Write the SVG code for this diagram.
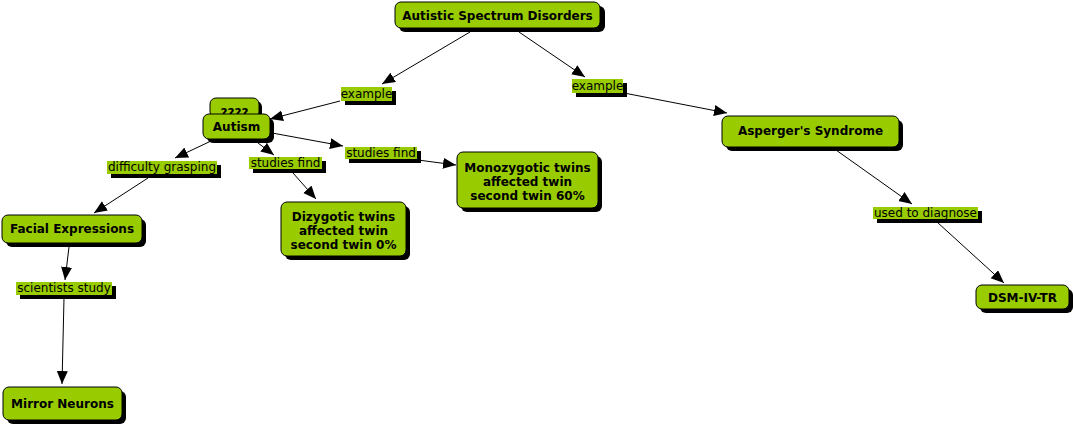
<svg xmlns="http://www.w3.org/2000/svg" width="1073" height="427" viewBox="0 0 1073 427">
<defs>
<marker id="ah" markerUnits="userSpaceOnUse" markerWidth="14" markerHeight="12" refX="13" refY="5.5" orient="auto">
<path d="M0,0 L13,5.5 L0,11 z" fill="#000"/>
</marker>
<style>
.nb{fill:#99cc00;stroke:#000;stroke-width:1}
.sh{fill:#000}
.nt{font-family:"DejaVu Sans",Verdana,sans-serif;font-weight:bold;font-size:12px;text-anchor:middle;fill:#000}
.lb{fill:#99cc00}
.lt{font-family:"DejaVu Sans",Verdana,sans-serif;font-size:12px;text-anchor:middle;fill:#000}
.cn{stroke:#000;stroke-width:1;fill:none;marker-end:url(#ah)}
</style>
</defs>
<rect width="1073" height="427" fill="#fff"/>
<g id="connectors">
<line class="cn" x1="470" y1="32" x2="382" y2="84"/>
<line class="cn" x1="340" y1="101" x2="270" y2="119"/>
<line class="cn" x1="519" y1="32" x2="585" y2="77"/>
<line class="cn" x1="624" y1="93" x2="727" y2="113"/>
<line class="cn" x1="211" y1="141" x2="175" y2="158"/>
<line class="cn" x1="148" y1="178" x2="94" y2="213"/>
<line class="cn" x1="69" y1="247" x2="65" y2="280"/>
<line class="cn" x1="64" y1="298" x2="62" y2="384"/>
<line class="cn" x1="258" y1="143" x2="274" y2="155"/>
<line class="cn" x1="293" y1="173" x2="316" y2="199"/>
<line class="cn" x1="272" y1="133" x2="343" y2="146"/>
<line class="cn" x1="418" y1="160" x2="456" y2="165"/>
<line class="cn" x1="836" y1="150" x2="912" y2="204"/>
<line class="cn" x1="937" y1="222" x2="1004" y2="283"/>
</g>
<g id="labels">
<g id="lbl-example1"><rect class="sh" x="345" y="91" width="51" height="14"/><rect class="lb" x="341" y="87" width="51" height="14"/><text class="lt" x="366.5" y="97.5">example</text></g>
<g id="lbl-example2"><rect class="sh" x="576" y="83" width="51" height="14"/><rect class="lb" x="572" y="79" width="51" height="14"/><text class="lt" x="597.5" y="89.5">example</text></g>
<g id="lbl-studies1"><rect class="sh" x="349" y="151" width="72" height="12"/><rect class="lb" x="345" y="147" width="72" height="12"/><text class="lt" x="381" y="156.5">studies find</text></g>
<g id="lbl-studies2"><rect class="sh" x="253" y="161" width="73" height="12"/><rect class="lb" x="249" y="157" width="73" height="12"/><text class="lt" x="285.5" y="166.5">studies find</text></g>
<g id="lbl-difficulty"><rect class="sh" x="111" y="165" width="110" height="13"/><rect class="lb" x="107" y="161" width="110" height="13"/><text class="lt" x="162" y="171">difficulty grasping</text></g>
<g id="lbl-scientists"><rect class="sh" x="20" y="286" width="96" height="13"/><rect class="lb" x="16" y="282" width="96" height="13"/><text class="lt" x="64" y="292">scientists study</text></g>
<g id="lbl-diagnose"><rect class="sh" x="877" y="211" width="105" height="12"/><rect class="lb" x="873" y="207" width="105" height="12"/><text class="lt" x="925.5" y="216.5">used to diagnose</text></g>
</g>
<g id="node-asd"><rect class="sh" x="399" y="6" width="206" height="26" rx="6"/><rect class="nb" x="395" y="2" width="205" height="26" rx="6"/><text class="nt" x="497.5" y="19.5">Autistic Spectrum Disorders</text></g>
<g id="node-q"><rect class="sh" x="213" y="101" width="49" height="20" rx="6"/><rect class="nb" x="210" y="98" width="49" height="20" rx="6"/><text class="nt" x="234.5" y="117">????</text></g>
<g id="node-autism"><rect class="sh" x="207" y="118" width="67" height="25" rx="6"/><rect class="nb" x="203" y="114" width="67" height="25" rx="6"/><text class="nt" x="236.5" y="131">Autism</text></g>
<g id="node-facial"><rect class="sh" x="6" y="219" width="140" height="28" rx="6"/><rect class="nb" x="2" y="215" width="140" height="28" rx="6"/><text class="nt" x="72" y="233">Facial Expressions</text></g>
<g id="node-mirror"><rect class="sh" x="7" y="391" width="119" height="33" rx="6"/><rect class="nb" x="3" y="387" width="119" height="33" rx="6"/><text class="nt" x="62.5" y="408">Mirror Neurons</text></g>
<g id="node-dizygotic"><rect class="sh" x="285" y="206" width="125" height="54" rx="6"/><rect class="nb" x="281" y="202" width="125" height="54" rx="6"/><text class="nt" x="343.5" y="220.5">Dizygotic twins</text><text class="nt" x="343.5" y="235">affected twin</text><text class="nt" x="343.5" y="249">second twin 0%</text></g>
<g id="node-monozygotic"><rect class="sh" x="461" y="156" width="141" height="56" rx="6"/><rect class="nb" x="457" y="152" width="141" height="56" rx="6"/><text class="nt" x="527.5" y="171.5">Monozygotic twins</text><text class="nt" x="527.5" y="185.5">affected twin</text><text class="nt" x="527.5" y="200">second twin 60%</text></g>
<g id="node-asperger"><rect class="sh" x="726" y="120" width="177" height="31" rx="6"/><rect class="nb" x="722" y="116" width="177" height="31" rx="6"/><text class="nt" x="810.5" y="135">Asperger's Syndrome</text></g>
<g id="node-dsm"><rect class="sh" x="980" y="289" width="93" height="24" rx="6"/><rect class="nb" x="976" y="285" width="93" height="24" rx="6"/><text class="nt" x="1022.5" y="301.5">DSM-IV-TR</text></g>
</svg>
